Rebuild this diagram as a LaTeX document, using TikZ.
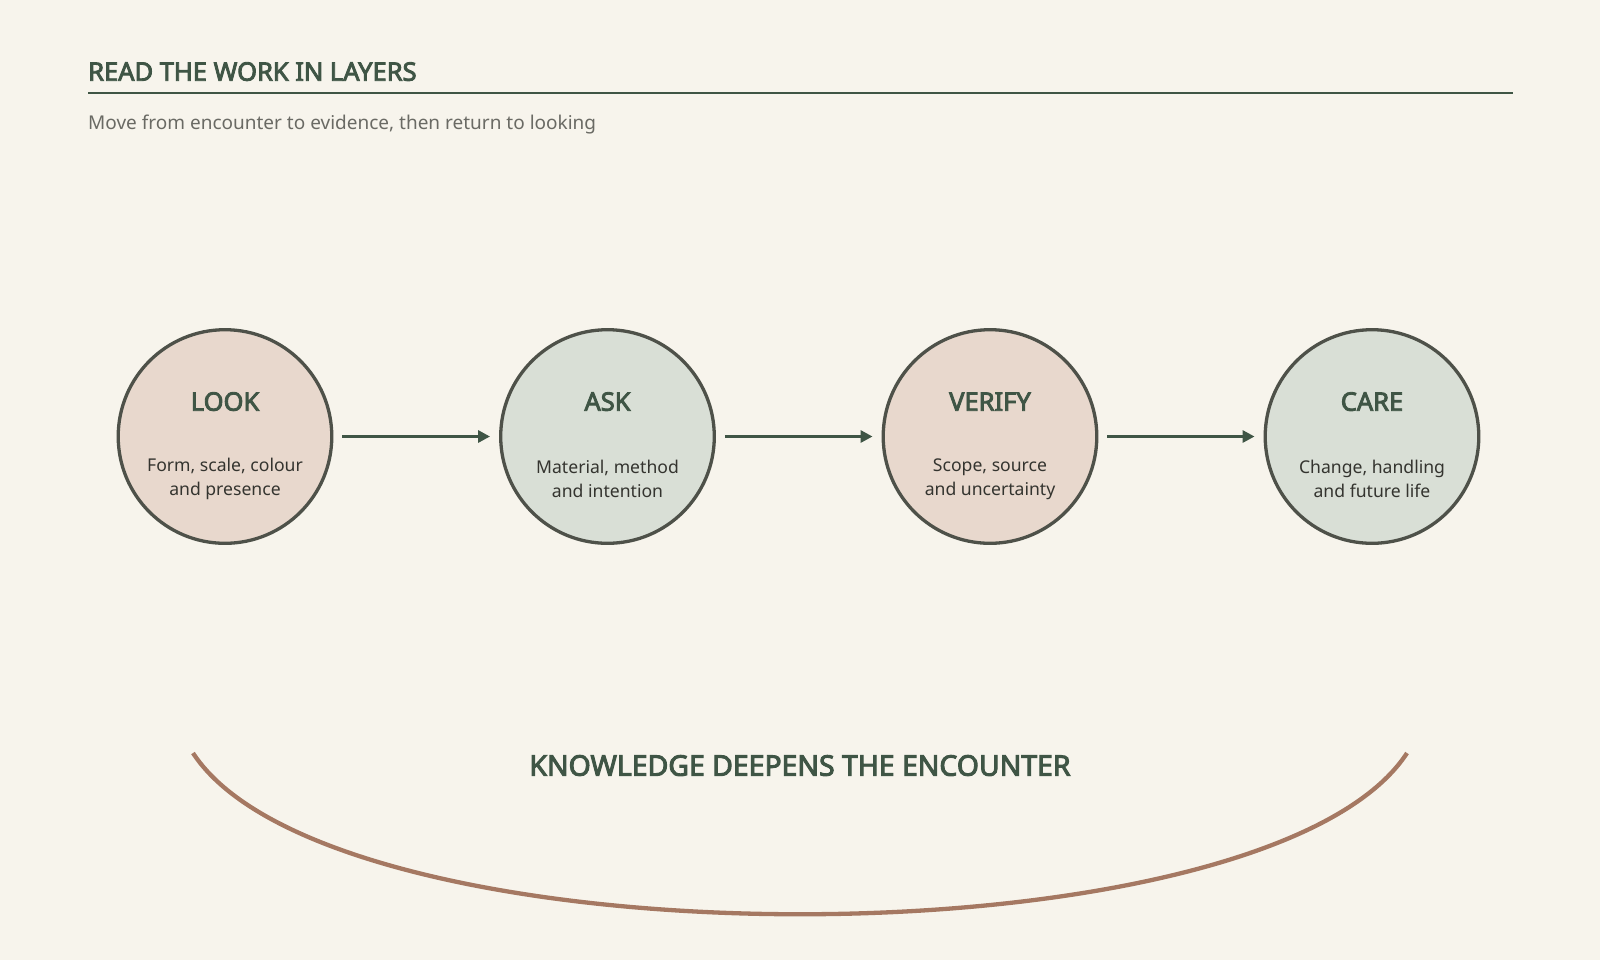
\documentclass[tikz,border=0pt]{standalone}
\usepackage{fontspec}
\setmainfont{Noto Sans}[AutoFakeBold=3.4]
\usetikzlibrary{arrows.meta}

\definecolor{paper}{HTML}{F7F4EC}
\definecolor{leaf}{HTML}{3F5545}
\definecolor{rim}{HTML}{4E5149}
\definecolor{blush}{HTML}{E8D8CD}
\definecolor{sage}{HTML}{D9DFD6}
\definecolor{ink}{HTML}{34342F}
\definecolor{mist}{HTML}{6A6A64}
\definecolor{clay}{HTML}{A57862}

\begin{document}
\begin{tikzpicture}[x=1pt, y=-1pt,
	stage/.style = {draw=rim, circle, line width=3.3pt, inner sep=0pt, minimum size=213.6pt},
	head/.style = {anchor=base, text=leaf, font=\fontsize{25.5}{28}\selectfont\bfseries},
	note/.style = {align=center, text=ink, font=\fontsize{17.6}{24.5}\selectfont},
	flow/.style = {draw=leaf, line width=3pt, -{Triangle[length=12pt,width=12pt]}, shorten <=9pt, shorten >=9pt}]
	
	\fill[paper] (0,0) rectangle (1600,960);
	
	\node[anchor=base west, text=leaf, font=\fontsize{25.5}{28}\selectfont\bfseries, inner sep=0pt] (title) at (88,80.7) {READ THE WORK IN LAYERS};
	\draw[leaf, line width=2pt] (88,92.7) -- (1513,92.7);
	\node[anchor=base west, text=mist, font=\fontsize{19}{24}\selectfont, inner sep=0pt] (sub) at (88,129.5) {Move from encounter to evidence, then return to looking};
	
	\node[stage, fill=blush] (look) at (225,436.5) {};
	\node[stage, fill=sage] (ask) at (607.5,436.5) {};
	\node[stage, fill=blush] (verify) at (990,436.5) {};
	\node[stage, fill=sage] (care) at (1372,436.5) {};
	
	\draw[flow] (look) -- (ask);
	\draw[flow] (ask) -- (verify);
	\draw[flow] (verify) -- (care);
	
	\node[head] (lookh) at (225,410.7) {LOOK};
	\node[head] (askh) at (607.5,410.7) {ASK};
	\node[head] (verifyh) at (990,410.7) {VERIFY};
	\node[head] (careh) at (1372,410.7) {CARE};
	
	\node[note] (lookn) at (225,479) {Form, scale, colour\\and presence};
	\node[note] (askn) at (607.5,479) {Material, method\\and intention};
	\node[note] (verifyn) at (990,479) {Scope, source\\and uncertainty};
	\node[note] (caren) at (1372,479) {Change, handling\\and future life};
	
	\coordinate (loopl) at (193,753);
	\coordinate (loopr) at (1407,753);
	\draw[clay, line width=4.3pt] (loopl) .. controls (333,968) and (1267,968) .. (loopr);
	
	\node[anchor=base, text=leaf, font=\fontsize{28.4}{34}\selectfont\bfseries] (moral) at (800,775.7) {KNOWLEDGE DEEPENS THE ENCOUNTER};
	
\end{tikzpicture}
\end{document}
